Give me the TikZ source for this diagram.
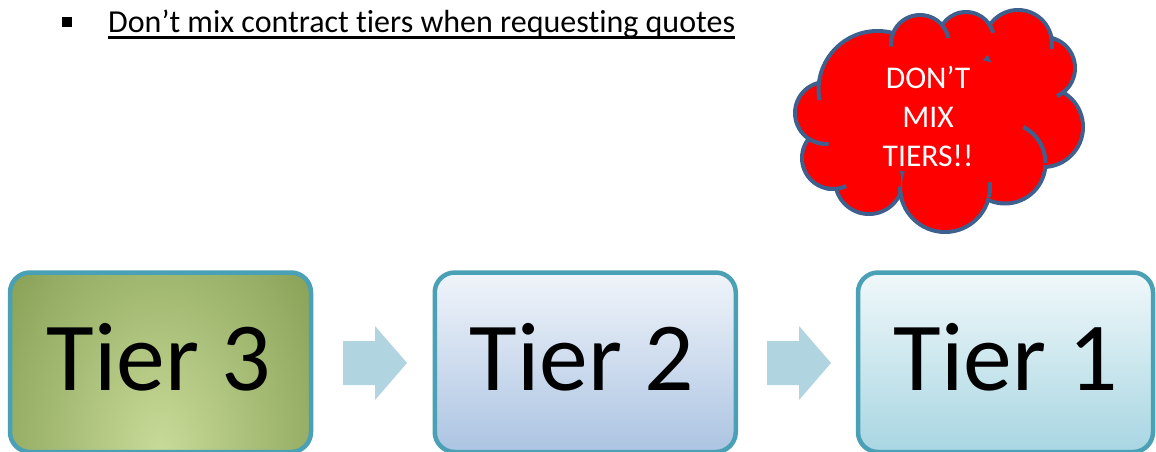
\documentclass[tikz,border=0pt]{standalone}
\usepackage{fontspec}
\setmainfont{Carlito}[Ligatures={NoCommon}]
\usetikzlibrary{calc}
\definecolor{tierborder}{RGB}{74,160,181}
\definecolor{arrowfill}{RGB}{176,212,224}
\definecolor{cloudline}{RGB}{62,96,142}
\definecolor{cloudred}{RGB}{255,0,0}
\definecolor{greenin}{RGB}{200,218,152}
\definecolor{greenout}{RGB}{100,130,50}
\definecolor{ttwotop}{RGB}{240,244,250}
\definecolor{ttwobot}{RGB}{172,196,226}
\definecolor{tonetop}{RGB}{240,248,250}
\definecolor{tonebot}{RGB}{168,214,226}
\newcommand\cloudstub[5]{\draw[cloudline, line width=4pt] ([shift={(#4:#3pt)}]#1,#2) arc[start angle=#4, end angle=#5, radius=#3pt];}
\tikzset{
  tierbox/.style={draw=tierborder, line width=4.5pt, rounded corners=20pt, minimum width=301pt, minimum height=179.5pt, inner sep=0pt},
  tiertext/.style={font=\fontsize{97.6}{110}\selectfont, anchor=base, inner sep=0pt},
  blockarrow/.pic={\fill[arrowfill] (-32,-22) -- (0,-22) -- (0,-37) -- (32,0) -- (0,37) -- (0,22) -- (-32,22) -- cycle;},
  bulletbox/.style={fill=black, minimum width=10pt, minimum height=9.5pt, inner sep=0pt},
  titletext/.style={font=\fontsize{32}{38}\selectfont, anchor=base west, inner sep=0pt},
  cloudtext/.style={font=\fontsize{31.6}{39}\selectfont, text=white, align=center, inner sep=0pt}
}
\begin{document}
\begin{tikzpicture}[x=1pt,y=-1pt]
\useasboundingbox (0,0) rectangle (1156,451);

% title line
\node[bulletbox] (bullet) at (66.7,22) {};
\node[titletext] (title) at (108,32) {Don’t mix contract tiers when requesting quotes};
\draw[line width=2.5pt] ([yshift=-5.5pt]title.base west) -- ([yshift=-5.5pt]title.base east);

% tier boxes
\node[tierbox, path picture={\shade[inner color=greenin, outer color=greenout] ([yshift=2pt]path picture bounding box.south) ellipse [x radius=300pt, y radius=440pt];}] (t3) at (160.5,362.25) {};
\node[tierbox, top color=ttwotop, bottom color=ttwobot] (t2) at (585.25,362.25) {};
\node[tierbox, top color=tonetop, bottom color=tonebot, minimum width=295pt] (t1) at (1005.5,362.25) {};
\node[tiertext] (l3) at (159,390) {Tier 3};
\node[tiertext] (l2) at (582,390) {Tier 2};
\node[tiertext] (l1) at (1006,390) {Tier 1};

% block arrows
\coordinate (m1) at (375,363);
\coordinate (m2) at (799,363);
\pic at (m1) {blockarrow};
\pic at (m2) {blockarrow};

% cloud
\def\puffs{877.5/90/59, 920/44/29, 966/40/28, 1018/44/34, 1044/68/31, 1043/127/40, 1005/163/40.5, 945/187/45, 869/180/34, 833/158/31, 826/113/31}
\foreach \cx/\cy/\r in \puffs {\fill[cloudline] (\cx,\cy) circle [radius=\r pt+2pt];}
\fill[cloudline] (940,115) ellipse [x radius=105pt, y radius=60pt];
\foreach \cx/\cy/\r in \puffs {\fill[cloudred] (\cx,\cy) circle [radius=\r pt-2pt];}
\fill[cloudred] (940,115) ellipse [x radius=105pt, y radius=60pt];
\cloudstub{877.5}{90}{59}{174}{190}
\cloudstub{920}{44}{29}{155}{185}
\cloudstub{920}{44}{29}{37}{12}
\cloudstub{966}{40}{28}{40}{15}
\cloudstub{1018}{44}{34}{14}{-8}
\cloudstub{1044}{68}{31}{-45}{-65}
\cloudstub{1005}{163}{40.5}{63}{0}
\cloudstub{945}{187}{45}{-13}{6}
\cloudstub{945}{187}{45}{197}{180}
\cloudstub{833}{158}{31}{-105}{-65}
\cloudstub{826}{113}{31}{-124}{-85}
\node[cloudtext] (dontmix) at (928,116) {DON’T\\MIX\\TIERS!!};
\end{tikzpicture}
\end{document}
